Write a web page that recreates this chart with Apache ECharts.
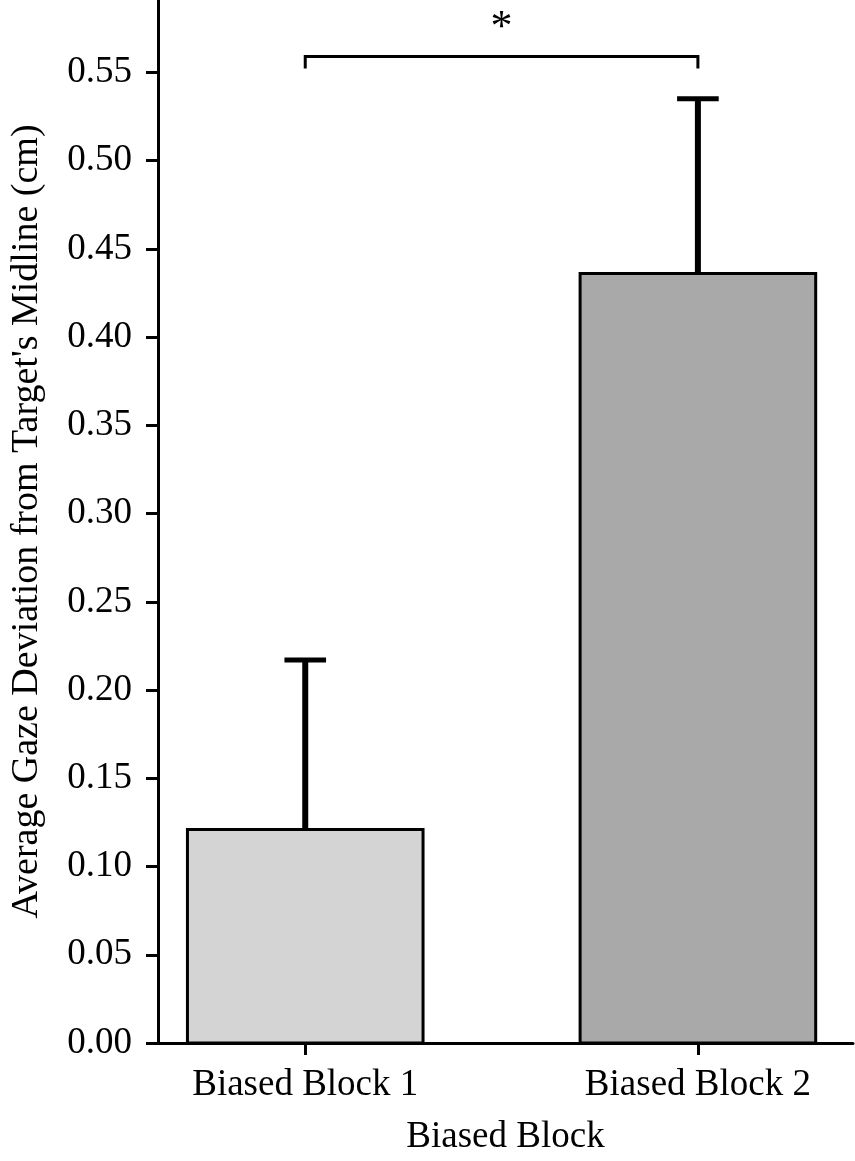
<!DOCTYPE html>
<html><head><meta charset="utf-8">
<script src="https://cdn.jsdelivr.net/npm/echarts@6/dist/echarts.min.js"></script>
<style>html,body{margin:0;padding:0;background:#fff}#c{width:855px;height:1161px}</style>
</head><body><div id="c"></div>
<script>
const categories = ['Biased Block 1', 'Biased Block 2'];
const means = [0.121, 0.436];
const errors = [0.096, 0.099];
const barColors = ['#d4d4d4', '#a9a9a9'];
const yTicks = [0,0.05,0.10,0.15,0.20,0.25,0.30,0.35,0.40,0.45,0.50,0.55];
const sigLevel = 0.559;
const F = 'Liberation Serif';
const chart = echarts.init(document.getElementById('c'));
const pos = categories.map((c,i)=>i+1);
chart.setOption({
  animation:false,
  grid:{left:146,right:2,top:0,bottom:109},
  xAxis:{type:'value',min:0.625,max:2.395,
    axisLine:{lineStyle:{color:'#000',width:3}},
    axisTick:{customValues:pos,length:12,lineStyle:{color:'#000',width:3}},
    axisLabel:{customValues:pos,formatter:v=>categories[Math.round(v)-1]||'',color:'#000',fontFamily:F,fontSize:37,margin:24},
    splitLine:{show:false},
    name:'Biased Block',nameLocation:'middle',nameGap:76,nameTextStyle:{color:'#000',fontFamily:F,fontSize:37}},
  yAxis:{type:'value',min:0,max:0.591,
    axisLine:{show:true,lineStyle:{color:'#000',width:3}},
    axisTick:{show:true,customValues:yTicks,length:12,lineStyle:{color:'#000',width:3}},
    axisLabel:{customValues:yTicks,formatter:v=>v.toFixed(2),color:'#000',fontFamily:F,fontSize:37,margin:26},
    splitLine:{show:false},
    name:"Average Gaze Deviation from Target's Midline (cm)",nameLocation:'middle',nameGap:112,nameRotate:90,
    nameTextStyle:{color:'#000',fontFamily:F,fontSize:38}},
  series:[{
    type:'custom',
    data:means.map((m,i)=>[pos[i],m,errors[i],i]),
    renderItem:(p,api)=>{
      const x=api.value(0),m=api.value(1),e=api.value(2),i=api.value(3);
      const a=api.coord([x-0.3,m]),b=api.coord([x+0.3,0]);
      const t=api.coord([x,m+e]),c=api.coord([x,m]);
      const hw=api.size([0.053,0])[0];
      return {type:'group',children:[
        {type:'line',shape:{x1:c[0],y1:c[1],x2:t[0],y2:t[1]},style:{stroke:'#000',lineWidth:6}},
        {type:'line',shape:{x1:t[0]-hw,y1:t[1],x2:t[0]+hw,y2:t[1]},style:{stroke:'#000',lineWidth:5}},
        {type:'rect',shape:{x:a[0],y:a[1],width:b[0]-a[0],height:b[1]-a[1]},style:{fill:barColors[i],stroke:'#000',lineWidth:3}}
      ]};
    }
  },{
    type:'custom',
    data:[[pos[0],pos[1],sigLevel]],
    renderItem:(p,api)=>{
      const l=api.coord([api.value(0),api.value(2)]),r=api.coord([api.value(1),api.value(2)]);
      const d=12;
      return {type:'group',children:[
        {type:'polyline',shape:{points:[[l[0],l[1]+d],[l[0],l[1]],[r[0],r[1]],[r[0],r[1]+d]]},style:{stroke:'#000',lineWidth:3,fill:null}},
        {type:'text',x:(l[0]+r[0])/2,y:l[1]-28,style:{text:'*',fontFamily:F,fontSize:44,fill:'#000',align:'center',verticalAlign:'middle'}}
      ]};
    }
  }]
});
</script></body></html>
